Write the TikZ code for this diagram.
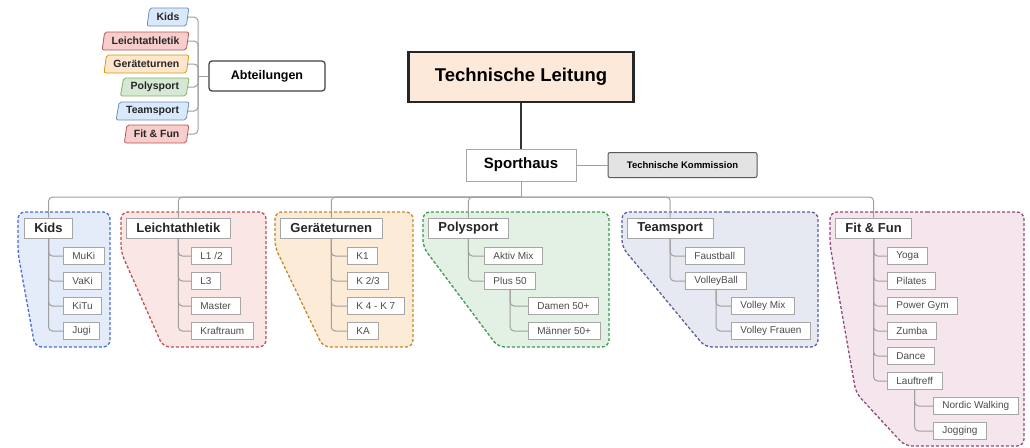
\documentclass[tikz,border=0pt]{standalone}
\usepackage{fontspec}
\setmainfont{Liberation Sans}
\usetikzlibrary{shapes.geometric}

\definecolor{kidsfill}{HTML}{E3ECF8}\definecolor{kidsline}{HTML}{4A6CD4}
\definecolor{leichtfill}{HTML}{FBE6E6}\definecolor{leichtline}{HTML}{C0504D}
\definecolor{geraetefill}{HTML}{FCEBD6}\definecolor{geraeteline}{HTML}{C08A2E}
\definecolor{polyfill}{HTML}{E2F1E4}\definecolor{polyline}{HTML}{3A9A55}
\definecolor{teamfill}{HTML}{E6E9F2}\definecolor{teamline}{HTML}{5A5E9C}
\definecolor{fitfill}{HTML}{F5E6EE}\definecolor{fitline}{HTML}{8E4C7E}
\definecolor{legblue}{HTML}{DAE8FC}\definecolor{legblueline}{HTML}{6C8EBF}
\definecolor{legred}{HTML}{F8CECC}\definecolor{legredline}{HTML}{B85450}
\definecolor{legorange}{HTML}{FFE6CC}\definecolor{legorangeline}{HTML}{D79B00}
\definecolor{leggreen}{HTML}{D5E8D4}\definecolor{leggreenline}{HTML}{82B366}
\definecolor{leitung}{HTML}{FDE9DA}

\begin{document}
\begin{tikzpicture}[x=1pt,y=-1pt]
    \tikzstyle{area}=[dash pattern=on 3pt off 2pt, line width=1.3pt, rounded corners=7pt]
    \tikzstyle{head}=[draw=gray!70, line width=0.9pt, fill=white, anchor=west, inner xsep=10pt, inner ysep=0pt, minimum height=20pt, font=\fontsize{13}{15}\selectfont\bfseries, text=black!85]
    \tikzstyle{sub}=[draw=gray!70, line width=0.8pt, fill=white, anchor=west, inner xsep=9pt, inner ysep=0pt, minimum height=17pt, font=\fontsize{10}{12}\selectfont, text=black!70]
    \tikzstyle{leg}=[trapezium, trapezium left angle=72, trapezium right angle=108, trapezium stretches=true, draw, line width=0.8pt, rounded corners=2pt, anchor=east, inner xsep=7pt, inner ysep=0pt, minimum height=18pt, font=\fontsize{10.5}{12}\selectfont\bfseries, text=black!85]
    \tikzstyle{link}=[draw=gray!75, line width=1pt, rounded corners=4pt]

    \useasboundingbox (0,0) rectangle (1030,447);

    % dashed areas behind the groups
    \filldraw[area, fill=kidsfill, draw=kidsline] (60,212) -- (110,212) -- (110,347) -- (35,347) -- (18,253) -- (18,212) -- cycle;
    \filldraw[area, fill=leichtfill, draw=leichtline] (190,212) -- (266,212) -- (266,347) -- (163,347) -- (121,252) -- (121,212) -- cycle;
    \filldraw[area, fill=geraetefill, draw=geraeteline] (340,212) -- (413,212) -- (413,347) -- (323,347) -- (275,247) -- (275,212) -- cycle;
    \filldraw[area, fill=polyfill, draw=polyline] (510,212) -- (609,212) -- (609,347) -- (498,347) -- (423,247) -- (423,212) -- cycle;
    \filldraw[area, fill=teamfill, draw=teamline] (720,212) -- (818,212) -- (818,347) -- (705,347) -- (622,247) -- (622,212) -- cycle;
    \filldraw[area, fill=fitfill, draw=fitline] (920,212) -- (1024,212) -- (1024,446) -- (905,446) -- (856,393) -- (830,245) -- (830,212) -- cycle;

    % legend
    \node[leg, fill=legblue, draw=legblueline] (lkids) at (188,17) {Kids};
    \node[leg, fill=legred, draw=legredline] (lleicht) at (188,41) {Leichtathletik};
    \node[leg, fill=legorange, draw=legorangeline] (lgeraete) at (188,64) {Geräteturnen};
    \node[leg, fill=leggreen, draw=leggreenline] (lpoly) at (188,87) {Polysport};
    \node[leg, fill=legblue, draw=legblueline] (lteam) at (188,111) {Teamsport};
    \node[leg, fill=legred, draw=legredline] (lfit) at (188,134) {Fit \& Fun};
    \node[draw=black!75, line width=1.2pt, rounded corners=3pt, minimum width=116pt, minimum height=30pt, font=\fontsize{12.5}{14}\selectfont\bfseries] (abt) at (267,76) {Abteilungen};

    % top
    \node[draw=black!85, line width=2.5pt, fill=leitung, minimum width=225pt, minimum height=50pt, font=\fontsize{18.5}{21}\selectfont\bfseries] (leitung) at (521,77) {Technische Leitung};
    \node[draw=gray!70, line width=1pt, fill=white, minimum width=110pt, minimum height=32pt, font=\fontsize{15}{17}\selectfont\bfseries] (sport) at (521,165) {Sporthaus};
    \node[draw=black!65, line width=1pt, fill=gray!22, rounded corners=2pt, minimum width=149pt, minimum height=25pt, font=\fontsize{9.5}{11}\selectfont\bfseries] (tk) at (682.5,165) {Technische Kommission};

    % groups
    \node[head] (kids) at (24,228) {Kids};
    \node[sub] (muki) at (63,256) {MuKi};
    \node[sub] (vaki) at (63,281) {VaKi};
    \node[sub] (kitu) at (63,306) {KiTu};
    \node[sub] (jugi) at (63,331) {Jugi};

    \node[head] (leicht) at (126,228) {Leichtathletik};
    \node[sub] (lonetwo) at (191,256) {L1 /2};
    \node[sub] (lthree) at (191,281) {L3};
    \node[sub] (master) at (191,306) {Master};
    \node[sub] (kraft) at (191,331) {Kraftraum};

    \node[head] (geraete) at (280,228) {Geräteturnen};
    \node[sub] (kone) at (347,256) {K1};
    \node[sub] (ktwo) at (347,281) {K 2/3};
    \node[sub] (kfour) at (347,306) {K 4 - K 7};
    \node[sub] (ka) at (347,331) {KA};

    \node[head] (poly) at (428,228) {Polysport};
    \node[sub] (aktiv) at (484,256) {Aktiv Mix};
    \node[sub] (plus) at (484,281) {Plus 50};
    \node[sub] (damen) at (528,306) {Damen 50+};
    \node[sub] (maenner) at (528,331) {Männer 50+};

    \node[head] (team) at (627,228) {Teamsport};
    \node[sub] (faust) at (685,256) {Faustball};
    \node[sub] (volley) at (685,281) {VolleyBall};
    \node[sub] (vmix) at (731,306) {Volley Mix};
    \node[sub] (vfrauen) at (731,331) {Volley Frauen};

    \node[head] (fit) at (835,228) {Fit \& Fun};
    \node[sub] (yoga) at (887,256) {Yoga};
    \node[sub] (pilates) at (887,281) {Pilates};
    \node[sub] (power) at (887,306) {Power Gym};
    \node[sub] (zumba) at (887,331) {Zumba};
    \node[sub] (dance) at (887,356) {Dance};
    \node[sub] (lauf) at (887,381) {Lauftreff};
    \node[sub] (nordic) at (933,406) {Nordic Walking};
    \node[sub] (jogging) at (933,431) {Jogging};

    % connectors
    \coordinate (bk) at (198,76);
    \draw[link] (abt.west) -- (bk);
    \foreach \l in {lkids,lleicht,lgeraete,lpoly,lteam,lfit}
      \draw[link] (bk) |- (\l.east);

    \draw[draw=black!80, line width=2pt] (leitung.south) -- (sport.north);
    \draw[link] (sport.east) -- (tk.west);
    \coordinate (bus) at (521,197);
    \draw[link] (sport.south) -- (bus);
    \foreach \g in {kids,leicht,geraete,poly,team,fit}
      \draw[link] (bus) -| (\g.north);

    \foreach \c in {muki,vaki,kitu,jugi} \draw[link] (kids.south) |- (\c.west);
    \foreach \c in {lonetwo,lthree,master,kraft} \draw[link] (leicht.south) |- (\c.west);
    \foreach \c in {kone,ktwo,kfour,ka} \draw[link] (geraete.south) |- (\c.west);
    \foreach \c in {aktiv,plus} \draw[link] (poly.south) |- (\c.west);
    \foreach \c in {damen,maenner} \draw[link] (plus.south) |- (\c.west);
    \foreach \c in {faust,volley} \draw[link] (team.south) |- (\c.west);
    \foreach \c in {vmix,vfrauen} \draw[link] (volley.south) |- (\c.west);
    \foreach \c in {yoga,pilates,power,zumba,dance,lauf} \draw[link] (fit.south) |- (\c.west);
    \foreach \c in {nordic,jogging} \draw[link] (lauf.south) |- (\c.west);
\end{tikzpicture}
\end{document}
